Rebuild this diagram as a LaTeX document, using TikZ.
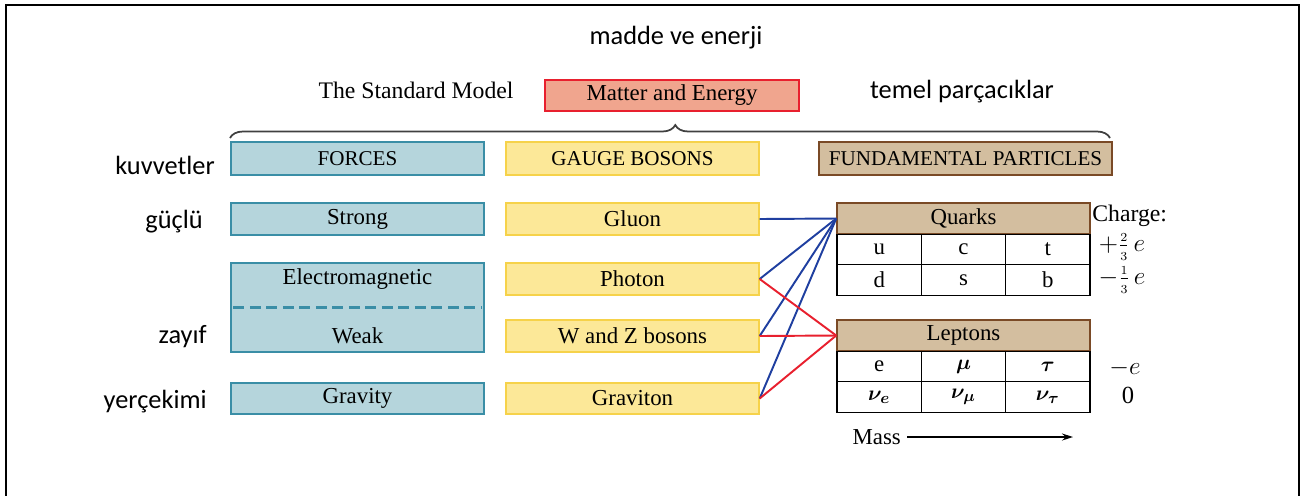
\documentclass[tikz,border=0pt]{standalone}
\usepackage{amsmath}
\usepackage{fontspec}
\setmainfont{Liberation Serif}
\newfontfamily\calfont{Carlito}
\usetikzlibrary{arrows.meta, decorations.pathreplacing}

\definecolor{forcefill}{HTML}{B5D5DC}
\definecolor{forceline}{HTML}{3A8EA6}
\definecolor{gaugefill}{HTML}{FCE898}
\definecolor{gaugeline}{HTML}{F6D24A}
\definecolor{fundfill}{HTML}{D3BE9F}
\definecolor{fundline}{HTML}{7A4A26}
\definecolor{matterfill}{HTML}{F0A58E}
\definecolor{matterline}{HTML}{E8202E}
\definecolor{quarkblue}{HTML}{1F3FA0}
\definecolor{leptonred}{HTML}{E8202E}

\newcommand{\bxfont}{\fontsize{13}{15}\selectfont}
\newcommand{\hdfont}{\fontsize{12}{14}\selectfont}
\newcommand{\trfont}{\calfont\fontsize{15}{18}\selectfont}
\newcommand{\smallfrac}[2]{\frac{\scriptscriptstyle #1}{\scriptscriptstyle #2}}

\begin{document}
\begin{tikzpicture}[x=0.02cm, y=-0.02cm,
    forcebox/.style={draw=forceline, fill=forcefill, line width=0.8pt, minimum width=5.06cm, minimum height=0.64cm, inner sep=0pt, font=\bxfont},
    gaugebox/.style={draw=gaugeline, fill=gaugefill, line width=0.8pt, minimum width=5.06cm, minimum height=0.64cm, inner sep=0pt, font=\bxfont},
    headbox/.style={draw=fundline, fill=fundfill, line width=0.9pt, minimum width=5.06cm, minimum height=0.62cm, inner sep=0pt, font=\bxfont},
    cell/.style={draw=black, line width=0.7pt, minimum width=1.687cm, minimum height=0.61cm, inner sep=0pt, font=\bxfont},
    trlabel/.style={anchor=east, inner sep=0pt, font=\trfont},
    charge/.style={inner sep=0pt, font=\fontsize{14}{16}\selectfont},
    quarkline/.style={quarkblue, line width=1.1pt},
    leptonline/.style={leptonred, line width=1.1pt}]
    \useasboundingbox (0,0) rectangle (1314,495);
    % frame
    \draw[line width=1.2pt] (6,500) -- (6,5) -- (1299,5) -- (1299,500);

    % top titles
    \node[font=\trfont] (madde) at (676,38) {madde ve enerji};
    \node[font=\fontsize{13.5}{15}\selectfont] (stdmodel) at (416,90) {The Standard Model};
    \node[draw=matterline, fill=matterfill, line width=0.8pt, minimum width=5.08cm, minimum height=0.62cm, inner sep=0pt, font=\bxfont] (matter) at (672,95.5) {Matter and Energy};
    \node[font=\trfont] (temel) at (962,92) {temel parçacıklar};

    % brace
    \draw[decorate, decoration={brace, amplitude=0.26cm, aspect=0.506}, line width=1pt, black!75] (230,138) -- (1110,138);

    % column headers
    \node[forcebox, minimum height=0.66cm, font=\hdfont] (forces) at (357.5,158.5) {FORCES};
    \node[gaugebox, minimum height=0.66cm, font=\hdfont] (gauge) at (632.5,158.5) {GAUGE BOSONS};
    \node[headbox, minimum width=5.86cm, minimum height=0.66cm, font=\hdfont] (fund) at (965.5,158.5) {FUNDAMENTAL PARTICLES};

    % forces
    \node[forcebox] (strong) at (357.5,219) {Strong};
    \node[forcebox, minimum height=1.78cm] (emweak) at (357.5,307.5) {};
    \node[font=\bxfont] (em) at (357.5,279) {Electromagnetic};
    \node[font=\bxfont] (weak) at (357.5,336) {Weak};
    \draw[forceline, line width=1.3pt, dash pattern=on 0.22cm off 0.11cm] ([xshift=0.06cm]emweak.west) -- ([xshift=-0.06cm]emweak.east);
    \node[forcebox, minimum height=0.62cm] (gravity) at (357.5,398.5) {Gravity};

    % gauge bosons
    \node[gaugebox] (gluon) at (632.5,219) {Gluon};
    \node[gaugebox] (photon) at (632.5,279) {Photon};
    \node[gaugebox] (wz) at (632.5,336) {W and Z bosons};
    \node[gaugebox, minimum height=0.62cm] (graviton) at (632.5,398.5) {Graviton};

    % turkish labels
    \node[trlabel] (kuvvet) at (215,165) {kuvvetler};
    \node[trlabel] (guclu) at (203,222) {güçlü};
    \node[trlabel] (zayif) at (207,337) {zayıf};
    \node[trlabel] (yercekimi) at (207,402) {yerçekimi};

    % quarks
    \node[headbox] (quarks) at (963.5,218.5) {Quarks};
    \node[cell] (u) at (879.2,249.5) {u};
    \node[cell] (c) at (963.5,249.5) {c};
    \node[cell] (t) at (1047.8,249.5) {t};
    \node[cell] (d) at (879.2,280) {d};
    \node[cell] (s) at (963.5,280) {s};
    \node[cell] (b) at (1047.8,280) {b};

    % leptons
    \node[headbox] (leptons) at (963.5,335.5) {Leptons};
    \node[cell] (e) at (879.2,366.5) {e};
    \node[cell] (mu) at (963.5,366.5) {$\boldsymbol{\mu}$};
    \node[cell] (tau) at (1047.8,366.5) {$\boldsymbol{\tau}$};
    \node[cell] (nue) at (879.2,397) {$\boldsymbol{\nu_e}$};
    \node[cell] (numu) at (963.5,397) {$\boldsymbol{\nu_\mu}$};
    \node[cell] (nutau) at (1047.8,397) {$\boldsymbol{\nu_\tau}$};

    % charges
    \node[font=\fontsize{13.5}{15}\selectfont, anchor=west, inner sep=0pt] (chargelbl) at (1092,216) {Charge:};
    \node[charge] (qup) at (1122,247) {$+\smallfrac{2}{3}\,e$};
    \node[charge] (qdown) at (1122,280) {$-\smallfrac{1}{3}\,e$};
    \node[charge] (qlep) at (1125,368) {$-e$};
    \node[charge] (qnu) at (1128,395) {0};

    % mass arrow
    \node[font=\bxfont, anchor=east] (mass) at (907,437) {Mass};
    \coordinate (massend) at (1073,437);
    \draw[-{Stealth[length=0.22cm, width=0.14cm]}, line width=0.8pt] (mass) -- (massend);

    % connections
    \draw[quarkline] (gluon.east) -- (quarks.west);
    \draw[quarkline] (photon.east) -- (quarks.west);
    \draw[quarkline] (wz.east) -- (quarks.west);
    \draw[quarkline] (graviton.east) -- (quarks.west);
    \draw[leptonline] (photon.east) -- (leptons.west);
    \draw[leptonline] (wz.east) -- (leptons.west);
    \draw[leptonline] (graviton.east) -- (leptons.west);
\end{tikzpicture}
\end{document}
